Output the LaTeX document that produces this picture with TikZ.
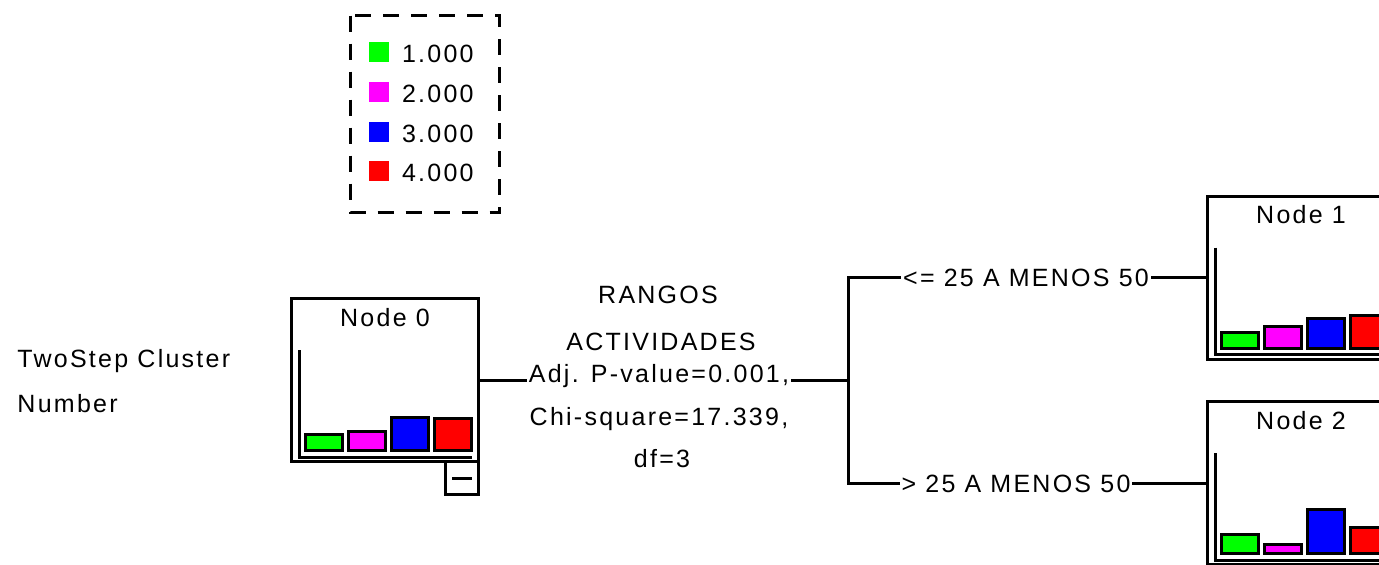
\documentclass[tikz,border=0pt]{standalone}
\usepackage{fontspec}
\setmainfont{Liberation Sans}[LetterSpace=9]
\usetikzlibrary{positioning,calc}

\definecolor{catgreen}{RGB}{0,255,0}
\definecolor{catpink}{RGB}{255,0,255}
\definecolor{catblue}{RGB}{0,0,255}
\definecolor{catred}{RGB}{255,0,0}

% histogram inside a tree node: #1 node name, #2-#5 bar heights
\newcommand{\histo}[5]{%
  \begin{scope}[shift={(#1.south west)}]
    \draw [axisline] (9.5,-113) -- (9.5,-6) -- (182,-6);
    \foreach \col/\h [count=\i from 0] in {catgreen/#2, catpink/#3, catblue/#4, catred/#5}
      \draw [bar, fill=\col] (15.5+43*\i,-12.5) rectangle (52+43*\i,-\h+1.5);
  \end{scope}}

\begin{document}
\begin{tikzpicture}[x=0.5pt, y=-0.5pt, line width=1.5pt, font=\fontsize{12.5}{15}\selectfont]
        \tikzset{
            treenode/.style={draw, fill=white, rectangle, minimum width=93.5pt, minimum height=81.5pt, inner sep=0pt},
            collapse/.style={draw, fill=white, rectangle, minimum width=16.5pt, minimum height=16.5pt, inner sep=0pt},
            swatch/.style={rectangle, minimum size=10pt, inner sep=0pt},
            txt/.style={inner sep=0pt, anchor=base},
            edgelabel/.style={fill=white, inner xsep=1pt, inner ysep=0pt, anchor=base},
            axisline/.style={line width=1.5pt},
            bar/.style={draw=black, line width=1.5pt}
        }
        \useasboundingbox (0,0) rectangle (1379,564);
        \clip (0,0) rectangle (1379,564);

        % Legend
        \draw [dash pattern=on 8pt off 6pt] (350.5,15.5) rectangle (499.5,212.5);
        \node [swatch, fill=catgreen] (sw1) at (379,52) {};
        \node [swatch, fill=catpink] (sw2) at (379,92) {};
        \node [swatch, fill=catblue] (sw3) at (379,132) {};
        \node [swatch, fill=catred] (sw4) at (379,171) {};
        \node [inner sep=0pt, right=5pt of sw1, yshift=-0.7pt] {1.000};
        \node [inner sep=0pt, right=5pt of sw2, yshift=-0.7pt] {2.000};
        \node [inner sep=0pt, right=5pt of sw3, yshift=-0.7pt] {3.000};
        \node [inner sep=0pt, right=5pt of sw4, yshift=-0.7pt] {4.000};

        % Target variable
        \node [txt, anchor=base west] (target) at (16,367) {TwoStep Cluster};
        \node [txt, anchor=base west] at (16,412) {Number};

        % Nodes
        \node [treenode] (node0) at (385,380) {};
        \node [txt] at ($(node0.north)+(0,29)$) {Node 0};
        \histo{node0}{30}{33}{47}{46}
        \node [collapse, anchor=north east] (node0c) at ($(node0.south east)+(0,-3)$) {};
        \draw ($(node0c.center)+(-10,0)$) -- ($(node0c.center)+(10,0)$);

        \node [treenode] (node1) at (1301,277.5) {};
        \node [txt] at ($(node1.north)+(0,29)$) {Node 1};
        \histo{node1}{30}{36}{44}{47}

        \node [treenode] (node2) at (1301,483) {};
        \node [txt] at ($(node2.north)+(0,29)$) {Node 2};
        \histo{node2}{33}{23}{58}{40}

        % Connections
        \coordinate (split) at (848,380);
        \draw (node0.east) -- (split);
        \draw (split) |- (node1.west);
        \draw (split) |- (node2.west);

        % Split labels
        \node [txt] at (658,303) {RANGOS};
        \node [txt] at (661,350) {ACTIVIDADES};
        \node [edgelabel] (pval) at (659,382) {Adj. P-value=0.001,};
        \node [txt] at (659,425) {Chi-square=17.339,};
        \node [txt] at (662,467) {df=3};

        \node [edgelabel] at (1026,286) {<= 25 A MENOS 50};
        \node [edgelabel] at (1016,492) {> 25 A MENOS 50};
    \end{tikzpicture}
\end{document}
